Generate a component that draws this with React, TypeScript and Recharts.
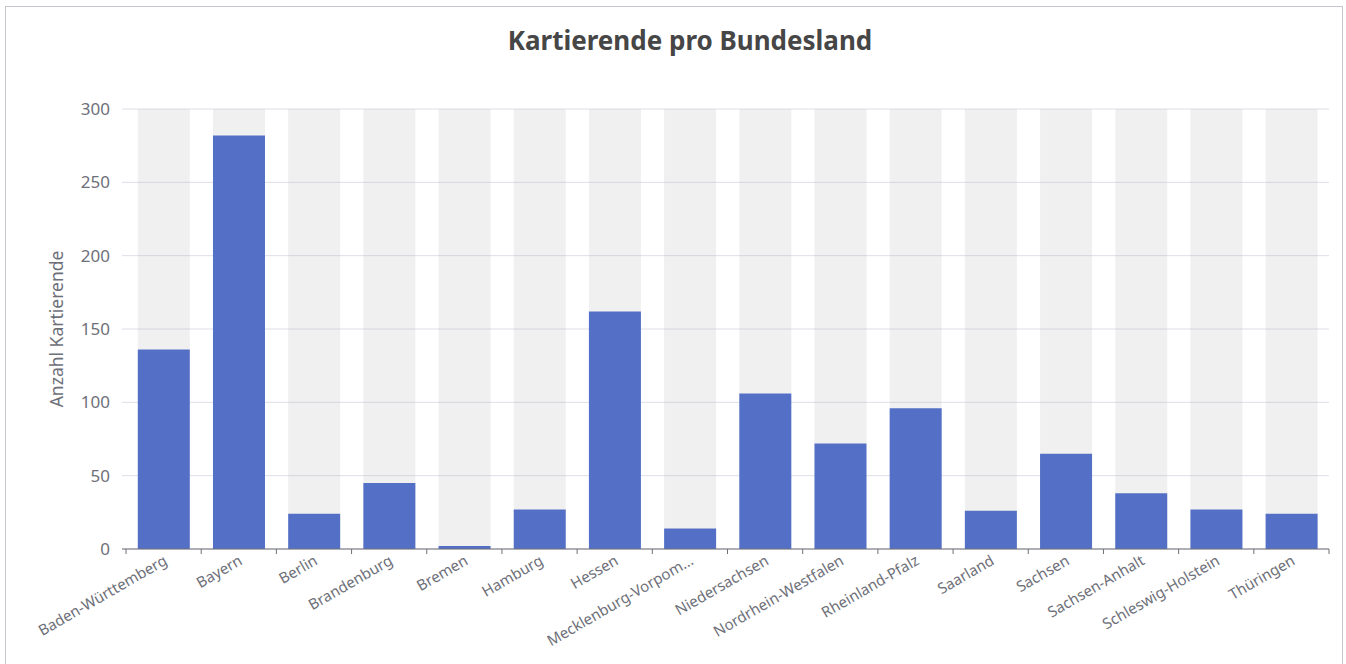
import React from "react";
import { BarChart, Bar, XAxis, YAxis, CartesianGrid } from "recharts";

const states = [
  "Baden-Württemberg",
  "Bayern",
  "Berlin",
  "Brandenburg",
  "Bremen",
  "Hamburg",
  "Hessen",
  "Mecklenburg-Vorpommern",
  "Niedersachsen",
  "Nordrhein-Westfalen",
  "Rheinland-Pfalz",
  "Saarland",
  "Sachsen",
  "Sachsen-Anhalt",
  "Schleswig-Holstein",
  "Thüringen",
];
const mappers = [136, 282, 24, 45, 2, 27, 162, 14, 106, 72, 96, 26, 65, 38, 27, 24];
const yTicks = [0, 50, 100, 150, 200, 250, 300];

const data = states.map((name, i) => ({ name, count: mappers[i] }));

const FONT = "'Noto Sans', 'Open Sans', sans-serif";
const AXIS_GREY = "#6e7079";

// long names get cut like the echarts label overflow
const shorten = (s: string) => (s.length > 20 ? s.slice(0, 18) + "..." : s);

function CategoryTick(props: any) {
  const { x, y, payload, index, visibleTicksCount } = props;
  const half = payload.offset || 0;
  const isLast = index === visibleTicksCount - 1;
  return (
    <g>
      <line x1={x - half} x2={x - half} y1={y} y2={y + 5} stroke={AXIS_GREY} />
      {isLast && <line x1={x + half} x2={x + half} y1={y} y2={y + 5} stroke={AXIS_GREY} />}
      <text
        transform={`translate(${x + 2},${y + 10}) rotate(-30)`}
        textAnchor="end"
        dy="0.35em"
        fill={AXIS_GREY}
        fontSize={15}
        fontFamily={FONT}
      >
        {shorten(payload.value)}
      </text>
    </g>
  );
}

export default function App() {
  return (
    <div
      style={{
        position: "absolute",
        left: 5,
        top: 6,
        width: 1336,
        height: 670,
        border: "1px solid #c4c7cc",
        background: "#fff",
        fontFamily: FONT,
      }}
    >
      <div
        style={{
          position: "absolute",
          left: 384,
          width: 600,
          top: 16,
          textAlign: "center",
          fontSize: 26,
          fontWeight: 700,
          color: "#464646",
          lineHeight: "34px",
        }}
      >
        Kartierende pro Bundesland
      </div>
      <BarChart
        width={1336}
        height={660}
        data={data}
        margin={{ top: 102, right: 13, bottom: 8, left: 0 }}
        barCategoryGap="15.7%"
      >
        <CartesianGrid vertical={false} stroke="#dcdfe6" />
        <XAxis
          dataKey="name"
          interval={0}
          height={110}
          padding={{ left: 4 }}
          tickLine={false}
          tickSize={0}
          tickMargin={0}
          axisLine={{ stroke: AXIS_GREY }}
          tick={<CategoryTick />}
        />
        <YAxis
          domain={[0, 300]}
          ticks={yTicks}
          width={116}
          axisLine={false}
          tickLine={false}
          tickSize={0}
          tickMargin={12}
          tick={{ fill: AXIS_GREY, fontSize: 17, fontFamily: FONT }}
          label={{
            value: "Anzahl Kartierende",
            angle: -90,
            position: "center",
            dx: -7,
            fill: AXIS_GREY,
            fontSize: 17.5,
            fontFamily: FONT,
          }}
        />
        <Bar
          dataKey="count"
          fill="#5470c6"
          background={{ fill: "rgba(180,180,180,0.2)" }}
          isAnimationActive={false}
        />
      </BarChart>
    </div>
  );
}
